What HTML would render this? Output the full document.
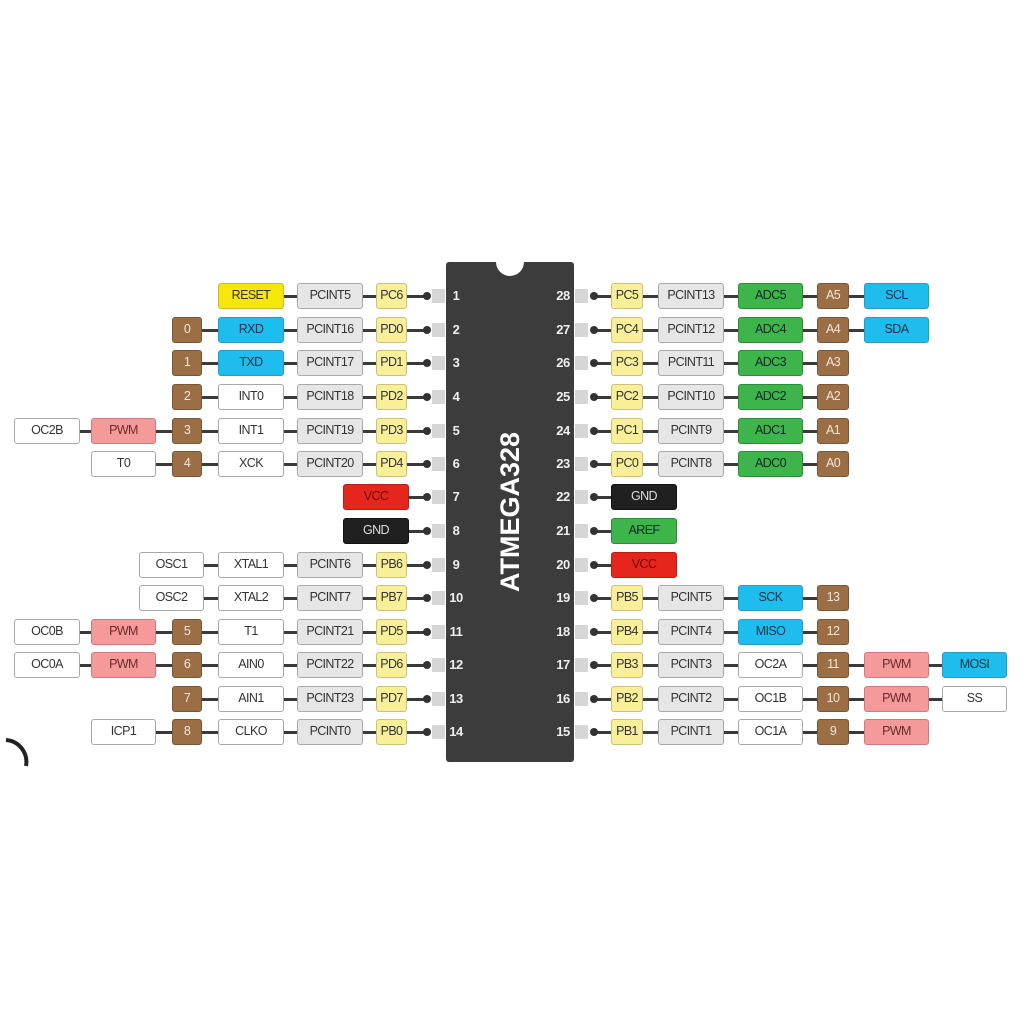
<!DOCTYPE html>
<html><head><meta charset="utf-8"><style>
*{margin:0;padding:0;box-sizing:border-box}
body{width:1024px;height:1024px;background:#fff;position:relative;overflow:hidden;font-family:"Liberation Sans",sans-serif}
.b{position:absolute;height:26px;border:1.5px solid #a8a8a8;border-radius:3px;font-size:12.5px;line-height:23px;text-align:center;color:#333;letter-spacing:-0.6px;background:#fff}
.w{background:#fff}
.g{background:#e6e6e6}
.y{background:#f8ef98;border-color:#c9c27a}
.Y{background:#f6e60a;border-color:#c7bb30}
.c{background:#1ebdee;border-color:#2a9cc4;color:#134}
.br{background:#9c6e45;border-color:#7b5636;color:#f3e6d8}
.gr{background:#3db54a;border-color:#2c8c37;color:#123}
.r{background:#e6261d;border-color:#b42018;color:#6a0b07}
.k{background:#202020;border-color:#111;color:#ddd}
.p{background:#f49a9b;border-color:#d07a7b;color:#6d2b2c}
.l{position:absolute;height:3px;background:#3a3a3a}
.d{position:absolute;width:8px;height:8px;border-radius:50%;background:#333}
.s{position:absolute;width:13px;height:14px;background:#d6d6d6}
.n{position:absolute;color:#eee;font-size:13px;font-weight:bold;width:26px;text-align:center;letter-spacing:-0.5px}
</style></head><body>
<!-- chip -->
<div style="position:absolute;left:446px;top:262px;width:128px;height:500px;background:#3c3c3c;border-radius:3px"></div>
<div style="position:absolute;left:496px;top:248px;width:28px;height:28px;border-radius:50%;background:#fff"></div>
<div style="position:absolute;left:510px;top:512px;width:0;height:0"><div style="position:absolute;left:-90px;top:-16px;width:180px;text-align:center;transform:rotate(-90deg);color:#fff;font-size:27px;font-weight:bold;line-height:32px">ATMEGA328</div></div>
<svg style="position:absolute;left:0;top:730px" width="40" height="40"><path d="M6 10 A22 22 0 0 1 26 36" fill="none" stroke="#222" stroke-width="4"/></svg>

<!-- LEFT rows: lines, stubs, dots, numbers -->
<div class="l" style="left:218px;top:295px;width:210px"></div>
<div class="l" style="left:172px;top:329px;width:256px"></div>
<div class="l" style="left:172px;top:362px;width:256px"></div>
<div class="l" style="left:172px;top:396px;width:256px"></div>
<div class="l" style="left:14px;top:430px;width:414px"></div>
<div class="l" style="left:91px;top:463px;width:337px"></div>
<div class="l" style="left:343px;top:496px;width:85px"></div>
<div class="l" style="left:343px;top:530px;width:85px"></div>
<div class="l" style="left:139px;top:564px;width:289px"></div>
<div class="l" style="left:139px;top:597px;width:289px"></div>
<div class="l" style="left:14px;top:631px;width:414px"></div>
<div class="l" style="left:14px;top:664px;width:414px"></div>
<div class="l" style="left:172px;top:698px;width:256px"></div>
<div class="l" style="left:91px;top:731px;width:337px"></div>

<div class="d" style="left:423px;top:292px"></div><div class="d" style="left:423px;top:326px"></div><div class="d" style="left:423px;top:359px"></div><div class="d" style="left:423px;top:393px"></div><div class="d" style="left:423px;top:427px"></div><div class="d" style="left:423px;top:460px"></div><div class="d" style="left:423px;top:493px"></div><div class="d" style="left:423px;top:527px"></div><div class="d" style="left:423px;top:561px"></div><div class="d" style="left:423px;top:594px"></div><div class="d" style="left:423px;top:628px"></div><div class="d" style="left:423px;top:661px"></div><div class="d" style="left:423px;top:695px"></div><div class="d" style="left:423px;top:728px"></div>
<div class="s" style="left:432px;top:289px"></div><div class="s" style="left:432px;top:323px"></div><div class="s" style="left:432px;top:356px"></div><div class="s" style="left:432px;top:390px"></div><div class="s" style="left:432px;top:424px"></div><div class="s" style="left:432px;top:457px"></div><div class="s" style="left:432px;top:490px"></div><div class="s" style="left:432px;top:524px"></div><div class="s" style="left:432px;top:558px"></div><div class="s" style="left:432px;top:591px"></div><div class="s" style="left:432px;top:625px"></div><div class="s" style="left:432px;top:658px"></div><div class="s" style="left:432px;top:692px"></div><div class="s" style="left:432px;top:725px"></div>
<div class="n" style="left:443px;top:288px">1</div><div class="n" style="left:443px;top:322px">2</div><div class="n" style="left:443px;top:355px">3</div><div class="n" style="left:443px;top:389px">4</div><div class="n" style="left:443px;top:423px">5</div><div class="n" style="left:443px;top:456px">6</div><div class="n" style="left:443px;top:489px">7</div><div class="n" style="left:443px;top:523px">8</div><div class="n" style="left:443px;top:557px">9</div><div class="n" style="left:443px;top:590px">10</div><div class="n" style="left:443px;top:624px">11</div><div class="n" style="left:443px;top:657px">12</div><div class="n" style="left:443px;top:691px">13</div><div class="n" style="left:443px;top:724px">14</div>

<!-- RIGHT rows -->
<div class="l" style="left:594px;top:295px;width:335px"></div>
<div class="l" style="left:594px;top:329px;width:335px"></div>
<div class="l" style="left:594px;top:362px;width:255px"></div>
<div class="l" style="left:594px;top:396px;width:255px"></div>
<div class="l" style="left:594px;top:430px;width:255px"></div>
<div class="l" style="left:594px;top:463px;width:255px"></div>
<div class="l" style="left:594px;top:496px;width:82px"></div>
<div class="l" style="left:594px;top:530px;width:82px"></div>
<div class="l" style="left:594px;top:564px;width:82px"></div>
<div class="l" style="left:594px;top:597px;width:255px"></div>
<div class="l" style="left:594px;top:631px;width:255px"></div>
<div class="l" style="left:594px;top:664px;width:413px"></div>
<div class="l" style="left:594px;top:698px;width:413px"></div>
<div class="l" style="left:594px;top:731px;width:335px"></div>

<div class="d" style="left:590px;top:292px"></div><div class="d" style="left:590px;top:326px"></div><div class="d" style="left:590px;top:359px"></div><div class="d" style="left:590px;top:393px"></div><div class="d" style="left:590px;top:427px"></div><div class="d" style="left:590px;top:460px"></div><div class="d" style="left:590px;top:493px"></div><div class="d" style="left:590px;top:527px"></div><div class="d" style="left:590px;top:561px"></div><div class="d" style="left:590px;top:594px"></div><div class="d" style="left:590px;top:628px"></div><div class="d" style="left:590px;top:661px"></div><div class="d" style="left:590px;top:695px"></div><div class="d" style="left:590px;top:728px"></div>
<div class="s" style="left:575px;top:289px"></div><div class="s" style="left:575px;top:323px"></div><div class="s" style="left:575px;top:356px"></div><div class="s" style="left:575px;top:390px"></div><div class="s" style="left:575px;top:424px"></div><div class="s" style="left:575px;top:457px"></div><div class="s" style="left:575px;top:490px"></div><div class="s" style="left:575px;top:524px"></div><div class="s" style="left:575px;top:558px"></div><div class="s" style="left:575px;top:591px"></div><div class="s" style="left:575px;top:625px"></div><div class="s" style="left:575px;top:658px"></div><div class="s" style="left:575px;top:692px"></div><div class="s" style="left:575px;top:725px"></div>
<div class="n" style="left:550px;top:288px">28</div><div class="n" style="left:550px;top:322px">27</div><div class="n" style="left:550px;top:355px">26</div><div class="n" style="left:550px;top:389px">25</div><div class="n" style="left:550px;top:423px">24</div><div class="n" style="left:550px;top:456px">23</div><div class="n" style="left:550px;top:489px">22</div><div class="n" style="left:550px;top:523px">21</div><div class="n" style="left:550px;top:557px">20</div><div class="n" style="left:550px;top:590px">19</div><div class="n" style="left:550px;top:624px">18</div><div class="n" style="left:550px;top:657px">17</div><div class="n" style="left:550px;top:691px">16</div><div class="n" style="left:550px;top:724px">15</div>

<!-- LEFT boxes -->
<div class="b Y" style="left:218px;top:283px;width:66px">RESET</div>
<div class="b g" style="left:297px;top:283px;width:66px">PCINT5</div>
<div class="b y" style="left:376px;top:283px;width:31px">PC6</div>

<div class="b br" style="left:172px;top:317px;width:30px">0</div>
<div class="b c" style="left:218px;top:317px;width:66px">RXD</div>
<div class="b g" style="left:297px;top:317px;width:66px">PCINT16</div>
<div class="b y" style="left:376px;top:317px;width:31px">PD0</div>

<div class="b br" style="left:172px;top:350px;width:30px">1</div>
<div class="b c" style="left:218px;top:350px;width:66px">TXD</div>
<div class="b g" style="left:297px;top:350px;width:66px">PCINT17</div>
<div class="b y" style="left:376px;top:350px;width:31px">PD1</div>

<div class="b br" style="left:172px;top:384px;width:30px">2</div>
<div class="b w" style="left:218px;top:384px;width:66px">INT0</div>
<div class="b g" style="left:297px;top:384px;width:66px">PCINT18</div>
<div class="b y" style="left:376px;top:384px;width:31px">PD2</div>

<div class="b w" style="left:14px;top:418px;width:66px">OC2B</div>
<div class="b p" style="left:91px;top:418px;width:65px">PWM</div>
<div class="b br" style="left:172px;top:418px;width:30px">3</div>
<div class="b w" style="left:218px;top:418px;width:66px">INT1</div>
<div class="b g" style="left:297px;top:418px;width:66px">PCINT19</div>
<div class="b y" style="left:376px;top:418px;width:31px">PD3</div>

<div class="b w" style="left:91px;top:451px;width:65px">T0</div>
<div class="b br" style="left:172px;top:451px;width:30px">4</div>
<div class="b w" style="left:218px;top:451px;width:66px">XCK</div>
<div class="b g" style="left:297px;top:451px;width:66px">PCINT20</div>
<div class="b y" style="left:376px;top:451px;width:31px">PD4</div>

<div class="b r" style="left:343px;top:484px;width:66px">VCC</div>
<div class="b k" style="left:343px;top:518px;width:66px">GND</div>

<div class="b w" style="left:139px;top:552px;width:65px">OSC1</div>
<div class="b w" style="left:218px;top:552px;width:66px">XTAL1</div>
<div class="b g" style="left:297px;top:552px;width:66px">PCINT6</div>
<div class="b y" style="left:376px;top:552px;width:31px">PB6</div>

<div class="b w" style="left:139px;top:585px;width:65px">OSC2</div>
<div class="b w" style="left:218px;top:585px;width:66px">XTAL2</div>
<div class="b g" style="left:297px;top:585px;width:66px">PCINT7</div>
<div class="b y" style="left:376px;top:585px;width:31px">PB7</div>

<div class="b w" style="left:14px;top:619px;width:66px">OC0B</div>
<div class="b p" style="left:91px;top:619px;width:65px">PWM</div>
<div class="b br" style="left:172px;top:619px;width:30px">5</div>
<div class="b w" style="left:218px;top:619px;width:66px">T1</div>
<div class="b g" style="left:297px;top:619px;width:66px">PCINT21</div>
<div class="b y" style="left:376px;top:619px;width:31px">PD5</div>

<div class="b w" style="left:14px;top:652px;width:66px">OC0A</div>
<div class="b p" style="left:91px;top:652px;width:65px">PWM</div>
<div class="b br" style="left:172px;top:652px;width:30px">6</div>
<div class="b w" style="left:218px;top:652px;width:66px">AIN0</div>
<div class="b g" style="left:297px;top:652px;width:66px">PCINT22</div>
<div class="b y" style="left:376px;top:652px;width:31px">PD6</div>

<div class="b br" style="left:172px;top:686px;width:30px">7</div>
<div class="b w" style="left:218px;top:686px;width:66px">AIN1</div>
<div class="b g" style="left:297px;top:686px;width:66px">PCINT23</div>
<div class="b y" style="left:376px;top:686px;width:31px">PD7</div>

<div class="b w" style="left:91px;top:719px;width:65px">ICP1</div>
<div class="b br" style="left:172px;top:719px;width:30px">8</div>
<div class="b w" style="left:218px;top:719px;width:66px">CLKO</div>
<div class="b g" style="left:297px;top:719px;width:66px">PCINT0</div>
<div class="b y" style="left:376px;top:719px;width:31px">PB0</div>

<!-- RIGHT boxes -->
<div class="b y" style="left:611px;top:283px;width:32px">PC5</div>
<div class="b g" style="left:658px;top:283px;width:66px">PCINT13</div>
<div class="b gr" style="left:738px;top:283px;width:65px">ADC5</div>
<div class="b br" style="left:817px;top:283px;width:32px">A5</div>
<div class="b c" style="left:864px;top:283px;width:65px">SCL</div>

<div class="b y" style="left:611px;top:317px;width:32px">PC4</div>
<div class="b g" style="left:658px;top:317px;width:66px">PCINT12</div>
<div class="b gr" style="left:738px;top:317px;width:65px">ADC4</div>
<div class="b br" style="left:817px;top:317px;width:32px">A4</div>
<div class="b c" style="left:864px;top:317px;width:65px">SDA</div>

<div class="b y" style="left:611px;top:350px;width:32px">PC3</div>
<div class="b g" style="left:658px;top:350px;width:66px">PCINT11</div>
<div class="b gr" style="left:738px;top:350px;width:65px">ADC3</div>
<div class="b br" style="left:817px;top:350px;width:32px">A3</div>

<div class="b y" style="left:611px;top:384px;width:32px">PC2</div>
<div class="b g" style="left:658px;top:384px;width:66px">PCINT10</div>
<div class="b gr" style="left:738px;top:384px;width:65px">ADC2</div>
<div class="b br" style="left:817px;top:384px;width:32px">A2</div>

<div class="b y" style="left:611px;top:418px;width:32px">PC1</div>
<div class="b g" style="left:658px;top:418px;width:66px">PCINT9</div>
<div class="b gr" style="left:738px;top:418px;width:65px">ADC1</div>
<div class="b br" style="left:817px;top:418px;width:32px">A1</div>

<div class="b y" style="left:611px;top:451px;width:32px">PC0</div>
<div class="b g" style="left:658px;top:451px;width:66px">PCINT8</div>
<div class="b gr" style="left:738px;top:451px;width:65px">ADC0</div>
<div class="b br" style="left:817px;top:451px;width:32px">A0</div>

<div class="b k" style="left:611px;top:484px;width:66px">GND</div>
<div class="b gr" style="left:611px;top:518px;width:66px">AREF</div>
<div class="b r" style="left:611px;top:552px;width:66px">VCC</div>

<div class="b y" style="left:611px;top:585px;width:32px">PB5</div>
<div class="b g" style="left:658px;top:585px;width:66px">PCINT5</div>
<div class="b c" style="left:738px;top:585px;width:65px">SCK</div>
<div class="b br" style="left:817px;top:585px;width:32px">13</div>

<div class="b y" style="left:611px;top:619px;width:32px">PB4</div>
<div class="b g" style="left:658px;top:619px;width:66px">PCINT4</div>
<div class="b c" style="left:738px;top:619px;width:65px">MISO</div>
<div class="b br" style="left:817px;top:619px;width:32px">12</div>

<div class="b y" style="left:611px;top:652px;width:32px">PB3</div>
<div class="b g" style="left:658px;top:652px;width:66px">PCINT3</div>
<div class="b w" style="left:738px;top:652px;width:65px">OC2A</div>
<div class="b br" style="left:817px;top:652px;width:32px">11</div>
<div class="b p" style="left:864px;top:652px;width:65px">PWM</div>
<div class="b c" style="left:942px;top:652px;width:65px">MOSI</div>

<div class="b y" style="left:611px;top:686px;width:32px">PB2</div>
<div class="b g" style="left:658px;top:686px;width:66px">PCINT2</div>
<div class="b w" style="left:738px;top:686px;width:65px">OC1B</div>
<div class="b br" style="left:817px;top:686px;width:32px">10</div>
<div class="b p" style="left:864px;top:686px;width:65px">PWM</div>
<div class="b w" style="left:942px;top:686px;width:65px">SS</div>

<div class="b y" style="left:611px;top:719px;width:32px">PB1</div>
<div class="b g" style="left:658px;top:719px;width:66px">PCINT1</div>
<div class="b w" style="left:738px;top:719px;width:65px">OC1A</div>
<div class="b br" style="left:817px;top:719px;width:32px">9</div>
<div class="b p" style="left:864px;top:719px;width:65px">PWM</div>
</body></html>
